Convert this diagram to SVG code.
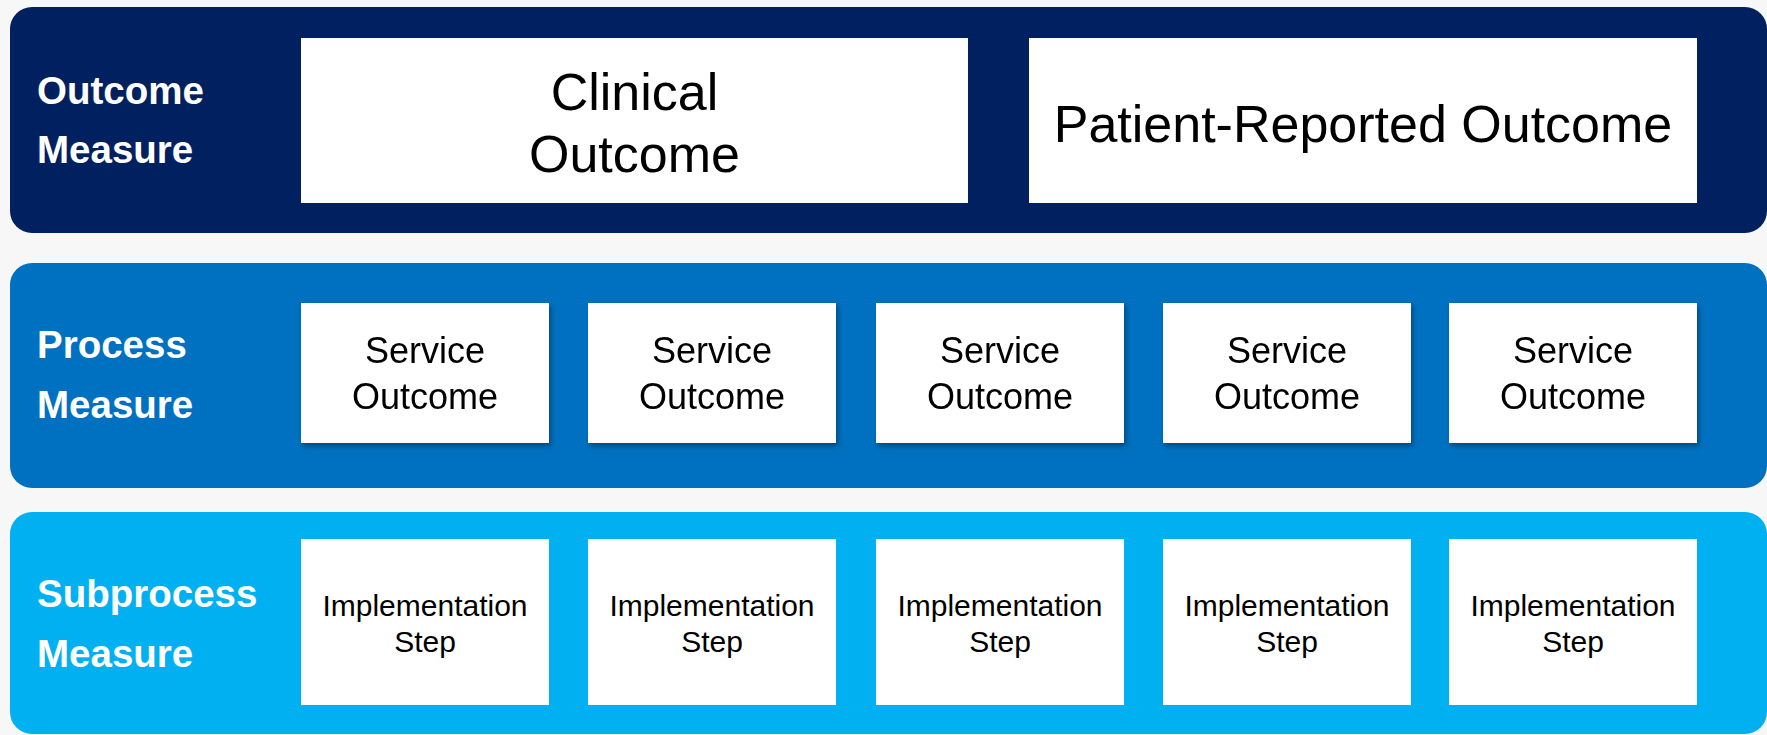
<svg xmlns="http://www.w3.org/2000/svg" width="1767" height="735" viewBox="0 0 1767 735">
  <defs>
    <filter id="shadow" x="-10%" y="-10%" width="130%" height="130%">
      <feDropShadow dx="2" dy="3" stdDeviation="2.5" flood-color="#000" flood-opacity="0.35"/>
    </filter>
  </defs>
  <style>
    .label { font-family: "Liberation Sans", Arial, sans-serif; font-weight: bold; font-size: 38.5px; fill: #ffffff; }
    .box { fill: #ffffff; }
    .t { font-family: "Liberation Sans", Arial, sans-serif; fill: #000000; text-anchor: middle; }
    .big { font-size: 52px; }
    .mid { font-size: 36px; }
    .small { font-size: 30px; }
  </style>
  <rect width="1767" height="735" fill="#f7f7f7"/>

  <!-- Tier bands -->
  <g id="band-outcome">
    <rect x="10" y="7" width="1757" height="226" rx="22" fill="#00205f"/>
    <text class="label" x="37" y="104">Outcome</text>
    <text class="label" x="37" y="163">Measure</text>
  </g>
  <g id="band-process">
    <rect x="10" y="263" width="1757" height="225" rx="22" fill="#0070c0"/>
    <text class="label" x="37" y="358">Process</text>
    <text class="label" x="37" y="418">Measure</text>
  </g>
  <g id="band-subprocess">
    <rect x="10" y="512" width="1757" height="222" rx="22" fill="#00b0f0"/>
    <text class="label" x="37" y="607">Subprocess</text>
    <text class="label" x="37" y="667">Measure</text>
  </g>

  <!-- Outcome measures -->
  <g id="clinical-outcome">
    <rect class="box" x="301" y="38" width="667" height="165"/>
    <text class="t big" x="634.5" y="110">Clinical</text>
    <text class="t big" x="634.5" y="172">Outcome</text>
  </g>
  <g id="patient-reported-outcome">
    <rect class="box" x="1029" y="38" width="668" height="165"/>
    <text class="t big" x="1363" y="142">Patient-Reported Outcome</text>
  </g>

  <!-- Process measures -->
  <g id="service-outcome-1" filter="url(#shadow)">
    <rect class="box" x="301" y="303" width="248" height="140"/>
    <text class="t mid" x="425" y="363">Service</text>
    <text class="t mid" x="425" y="409">Outcome</text>
  </g>
  <g id="service-outcome-2" filter="url(#shadow)">
    <rect class="box" x="588" y="303" width="248" height="140"/>
    <text class="t mid" x="712" y="363">Service</text>
    <text class="t mid" x="712" y="409">Outcome</text>
  </g>
  <g id="service-outcome-3" filter="url(#shadow)">
    <rect class="box" x="876" y="303" width="248" height="140"/>
    <text class="t mid" x="1000" y="363">Service</text>
    <text class="t mid" x="1000" y="409">Outcome</text>
  </g>
  <g id="service-outcome-4" filter="url(#shadow)">
    <rect class="box" x="1163" y="303" width="248" height="140"/>
    <text class="t mid" x="1287" y="363">Service</text>
    <text class="t mid" x="1287" y="409">Outcome</text>
  </g>
  <g id="service-outcome-5" filter="url(#shadow)">
    <rect class="box" x="1449" y="303" width="248" height="140"/>
    <text class="t mid" x="1573" y="363">Service</text>
    <text class="t mid" x="1573" y="409">Outcome</text>
  </g>

  <!-- Subprocess measures -->
  <g id="implementation-step-1">
    <rect class="box" x="301" y="539" width="248" height="166"/>
    <text class="t small" x="425" y="616">Implementation</text>
    <text class="t small" x="425" y="652">Step</text>
  </g>
  <g id="implementation-step-2">
    <rect class="box" x="588" y="539" width="248" height="166"/>
    <text class="t small" x="712" y="616">Implementation</text>
    <text class="t small" x="712" y="652">Step</text>
  </g>
  <g id="implementation-step-3">
    <rect class="box" x="876" y="539" width="248" height="166"/>
    <text class="t small" x="1000" y="616">Implementation</text>
    <text class="t small" x="1000" y="652">Step</text>
  </g>
  <g id="implementation-step-4">
    <rect class="box" x="1163" y="539" width="248" height="166"/>
    <text class="t small" x="1287" y="616">Implementation</text>
    <text class="t small" x="1287" y="652">Step</text>
  </g>
  <g id="implementation-step-5">
    <rect class="box" x="1449" y="539" width="248" height="166"/>
    <text class="t small" x="1573" y="616">Implementation</text>
    <text class="t small" x="1573" y="652">Step</text>
  </g>

  <!-- No connectors in this layered chart -->
  <g id="connectors"/>
</svg>
